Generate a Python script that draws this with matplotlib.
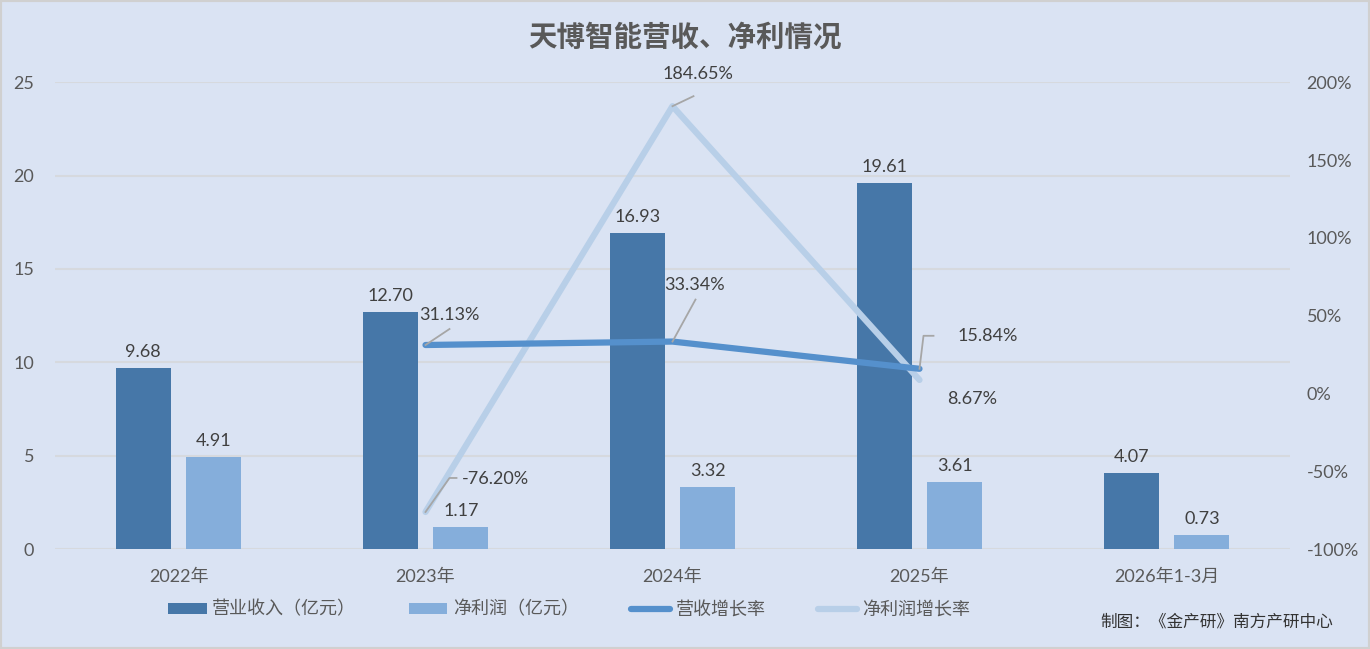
import numpy as np
import matplotlib
matplotlib.use("Agg")
import matplotlib.pyplot as plt
from matplotlib.patches import Patch, Rectangle
from matplotlib.lines import Line2D

plt.rcParams['font.family'] = ['Lato', 'Noto Sans CJK SC', 'DejaVu Sans']

categories = ["2022年", "2023年", "2024年", "2025年", "2026年1-3月"]
revenue = [9.68, 12.70, 16.93, 19.61, 4.07]
net_profit = [4.91, 1.17, 3.32, 3.61, 0.73]
growth_idx = [1, 2, 3]
rev_growth = [31.13, 33.34, 15.84]
np_growth = [-76.20, 184.65, 8.67]
left_ticks = [0, 5, 10, 15, 20, 25]
right_ticks = [-100, -50, 0, 50, 100, 150, 200]

BG = "#dae3f3"
DARK = "#4677a8"
LIGHT = "#85aedb"
LINE1 = "#5590cc"
LINE2 = "#b8cfe8"
GRID = "#d6d9de"
TXT = "#595959"
LEAD = "#a6a6a6"

W, H = 1370, 649
fig = plt.figure(figsize=(W / 100, H / 100), dpi=100, facecolor=BG)
fig.patches.append(Rectangle((0, 0), 1, 1, transform=fig.transFigure,
                             fill=False, edgecolor="#d0d0d0", linewidth=3))

ax = fig.add_axes([55 / W, 1 - 549 / H, (1290 - 55) / W, (549 - 82.3) / H])
ax.set_facecolor("none")
ax2 = ax.twinx()
ax2.set_facecolor("none")

x = np.arange(len(categories))
bw = 0.223
off = 0.143
ax.bar(x - off, revenue, bw, color=DARK, zorder=3)
ax.bar(x + off, net_profit, bw, color=LIGHT, zorder=3)
ax.set_xlim(-0.5, len(categories) - 0.5)
ax.set_ylim(0, 25)
ax.set_yticks(left_ticks)
ax.set_yticklabels([str(t) for t in left_ticks])
ax.grid(axis="y", color=GRID, linewidth=1.5, zorder=0)
ax.set_axisbelow(True)
for s in ax.spines.values():
    s.set_visible(False)
for s in ax2.spines.values():
    s.set_visible(False)
ax.tick_params(axis="both", length=0, colors=TXT, labelsize=13)
ax.tick_params(axis="y", pad=15)
ax.tick_params(axis="x", pad=14)
ax.set_xticks(x)
ax.set_xticklabels(categories)
for lab in ax.get_yticklabels():
    lab.set_color(TXT)

for xi, v in zip(x, revenue):
    ax.annotate(f"{v:.2f}", (xi - off, v), xytext=(0, 8), textcoords="offset pixels",
                ha="center", va="bottom", fontsize=13, color="#404040")
for xi, v in zip(x, net_profit):
    ax.annotate(f"{v:.2f}", (xi + off, v), xytext=(0, 8), textcoords="offset pixels",
                ha="center", va="bottom", fontsize=13, color="#404040")

ax2.set_ylim(-100, 200)
ax2.set_yticks(right_ticks)
ax2.set_yticklabels([f"{t}%" for t in right_ticks])
ax2.tick_params(axis="y", length=0, colors=TXT, labelsize=13, pad=12)

ax2.plot(growth_idx, np_growth, color=LINE2, linewidth=4.5, solid_capstyle="round",
         solid_joinstyle="round", zorder=4)
ax2.plot(growth_idx, rev_growth, color=LINE1, linewidth=4.5, solid_capstyle="round",
         solid_joinstyle="round", zorder=5)

fig.canvas.draw()


def leader(xd, yd, offsets):
    px, py = ax2.transData.transform((xd, yd))
    pts = [(px, py)] + [(px + dx, py + dy) for dx, dy in offsets]
    dpts = ax2.transData.inverted().transform(pts)
    ax2.plot(dpts[:, 0], dpts[:, 1], color=LEAD, linewidth=1.3, zorder=6)


def label(xd, yd, text, dx, dy, ha):
    ax2.annotate(text, (xd, yd), xytext=(dx, dy), textcoords="offset pixels",
                 ha=ha, va="center", fontsize=13, color="#404040", zorder=7)


# revenue growth labels
leader(growth_idx[0], rev_growth[0], [(24, 16)])
label(growth_idx[0], rev_growth[0], f"{rev_growth[0]:.2f}%", -6, 30, "left")
leader(growth_idx[1], rev_growth[1], [(23, 42)])
label(growth_idx[1], rev_growth[1], f"{rev_growth[1]:.2f}%", 22, 57, "center")
leader(growth_idx[2], rev_growth[2], [(4, 33), (14, 33)])
label(growth_idx[2], rev_growth[2], f"{rev_growth[2]:.2f}%", 38, 33, "left")
# net profit growth labels
leader(growth_idx[0], np_growth[0], [(24, 34), (31, 34)])
label(growth_idx[0], np_growth[0], f"{np_growth[0]:.2f}%", 36, 33, "left")
leader(growth_idx[1], np_growth[1], [(21, 10)])
label(growth_idx[1], np_growth[1], f"{np_growth[1]:.2f}%", 25, 32, "center")
label(growth_idx[2], np_growth[2], f"{np_growth[2]:.2f}%", 28, -19, "left")

fig.text(0.5, 1 - 37 / H, "天博智能营收、净利情况", ha="center", va="center",
         fontsize=20.5, fontweight="bold", color=TXT)

handles = [
    Patch(facecolor=DARK, edgecolor="none"),
    Patch(facecolor=LIGHT, edgecolor="none"),
    Line2D([0], [0], color=LINE1, linewidth=4.5, solid_capstyle="round"),
    Line2D([0], [0], color=LINE2, linewidth=4.5, solid_capstyle="round"),
]
labels = ["营业收入（亿元）", "净利润（亿元）", "营收增长率", "净利润增长率"]
leg = fig.legend(handles, labels, loc="center", bbox_to_anchor=(569 / W, 1 - 609 / H),
                 ncol=4, frameon=False, fontsize=13, handlelength=2.15,
                 handleheight=0.55, handletextpad=0.3, columnspacing=2.9)
for t in leg.get_texts():
    t.set_color(TXT)

fig.text(1333 / W, 1 - 622 / H, "制图：《金产研》南方产研中心", ha="right", va="center",
         fontsize=12, color="#333333")

fig.savefig("out.png", dpi=100, facecolor=BG)
